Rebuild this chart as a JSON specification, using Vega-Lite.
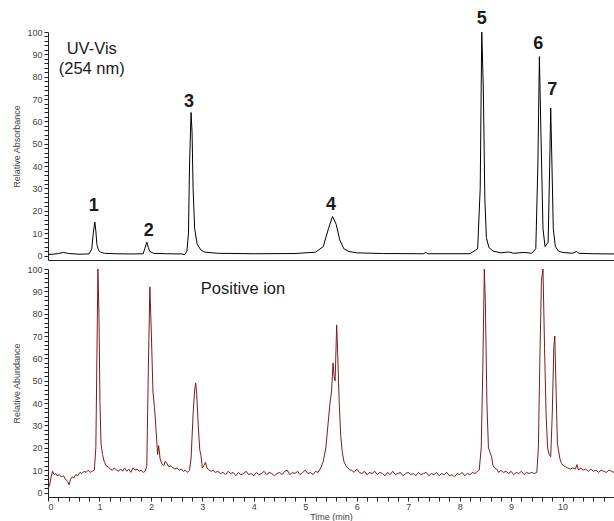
{
  "$schema": "https://vega.github.io/schema/vega-lite/v6.json",
  "padding": {"left": 12, "top": 9, "right": 0, "bottom": 0},
  "background": "white",
  "spacing": 4,
  "config": {
    "view": {"stroke": null},
    "font": "Liberation Sans",
    "axis": {
      "grid": false,
      "labelFont": "Liberation Sans",
      "titleFont": "Liberation Sans",
      "labelFontSize": 9,
      "titleFontSize": 9,
      "titleFontWeight": "normal",
      "labelColor": "#444",
      "titleColor": "#444",
      "domainColor": "#222",
      "tickColor": "#222",
      "tickSize": 4,
      "labelOverlap": false
    }
  },
  "datasets": {
    "uv": [
      {"t": 0, "v": 0.5}, {"t": 0.1, "v": 0.6}, {"t": 0.2, "v": 0.9}, {"t": 0.3, "v": 1.4}, {"t": 0.4, "v": 0.9},
      {"t": 0.6, "v": 0.6}, {"t": 0.8, "v": 0.7}, {"t": 0.85, "v": 3}, {"t": 0.88, "v": 10}, {"t": 0.91, "v": 15},
      {"t": 0.93, "v": 11}, {"t": 0.95, "v": 5}, {"t": 0.98, "v": 2.5}, {"t": 1.02, "v": 1.5}, {"t": 1.1, "v": 1},
      {"t": 1.3, "v": 0.8}, {"t": 1.6, "v": 0.7}, {"t": 1.85, "v": 0.8}, {"t": 1.88, "v": 3}, {"t": 1.92, "v": 6},
      {"t": 1.95, "v": 3.5}, {"t": 1.98, "v": 1.8}, {"t": 2.05, "v": 1}, {"t": 2.3, "v": 0.8}, {"t": 2.6, "v": 0.7},
      {"t": 2.66, "v": 0.4}, {"t": 2.7, "v": 2}, {"t": 2.73, "v": 10}, {"t": 2.75, "v": 40}, {"t": 2.78, "v": 64},
      {"t": 2.8, "v": 55}, {"t": 2.82, "v": 30}, {"t": 2.85, "v": 12}, {"t": 2.9, "v": 5}, {"t": 2.97, "v": 2.5},
      {"t": 3.05, "v": 1.5}, {"t": 3.3, "v": 1}, {"t": 4.0, "v": 0.8}, {"t": 4.8, "v": 0.9}, {"t": 5.2, "v": 1.5},
      {"t": 5.35, "v": 4}, {"t": 5.45, "v": 12}, {"t": 5.53, "v": 17.5}, {"t": 5.6, "v": 14}, {"t": 5.67, "v": 7},
      {"t": 5.75, "v": 3}, {"t": 5.85, "v": 1.8}, {"t": 6.0, "v": 1.2}, {"t": 6.5, "v": 0.9}, {"t": 7.3, "v": 0.8},
      {"t": 7.34, "v": 1.4}, {"t": 7.38, "v": 0.8}, {"t": 8.2, "v": 0.8}, {"t": 8.35, "v": 3}, {"t": 8.4, "v": 30},
      {"t": 8.43, "v": 100}, {"t": 8.46, "v": 75}, {"t": 8.49, "v": 25}, {"t": 8.52, "v": 8}, {"t": 8.57, "v": 3.5},
      {"t": 8.65, "v": 2}, {"t": 8.8, "v": 1.2}, {"t": 8.95, "v": 1.6}, {"t": 9.05, "v": 1}, {"t": 9.25, "v": 1.4},
      {"t": 9.4, "v": 1}, {"t": 9.48, "v": 3}, {"t": 9.52, "v": 40}, {"t": 9.55, "v": 89}, {"t": 9.58, "v": 55},
      {"t": 9.62, "v": 12}, {"t": 9.66, "v": 4}, {"t": 9.72, "v": 6}, {"t": 9.75, "v": 40}, {"t": 9.77, "v": 66},
      {"t": 9.79, "v": 45}, {"t": 9.82, "v": 12}, {"t": 9.86, "v": 4}, {"t": 9.92, "v": 2}, {"t": 10.0, "v": 1.4},
      {"t": 10.2, "v": 1}, {"t": 10.27, "v": 1.8}, {"t": 10.32, "v": 1}, {"t": 10.6, "v": 0.8}, {"t": 11.0, "v": 0.7}
    ],
    "uvlabels": [
      {"label": "1", "t": 0.89, "v": 22},
      {"label": "2", "t": 1.96, "v": 11},
      {"label": "3", "t": 2.74, "v": 68.6},
      {"label": "4", "t": 5.5, "v": 22.4},
      {"label": "5", "t": 8.43, "v": 106},
      {"label": "6", "t": 9.53, "v": 94.6},
      {"label": "7", "t": 9.8, "v": 74}
    ],
    "uvnotes": [
      {"label": "UV-Vis", "t": 0.85, "v": 92.4},
      {"label": "(254 nm)", "t": 0.85, "v": 83.4}
    ],
    "msnotes": [
      {"label": "Positive ion", "t": 3.79, "v": 91}
    ],
    "ms": [
      {"t": 0.0, "v": 2}, {"t": 0.03, "v": 3}, {"t": 0.06, "v": 7}, {"t": 0.09, "v": 9.5}, {"t": 0.12, "v": 8},
      {"t": 0.15, "v": 8.5}, {"t": 0.18, "v": 7.5}, {"t": 0.22, "v": 8}, {"t": 0.26, "v": 7}, {"t": 0.3, "v": 7.5},
      {"t": 0.34, "v": 6}, {"t": 0.38, "v": 5}, {"t": 0.41, "v": 3.5}, {"t": 0.44, "v": 6}, {"t": 0.47, "v": 7},
      {"t": 0.5, "v": 6.5}, {"t": 0.54, "v": 8}, {"t": 0.58, "v": 7.5}, {"t": 0.62, "v": 9}, {"t": 0.66, "v": 8.5},
      {"t": 0.7, "v": 9.5}, {"t": 0.74, "v": 9}, {"t": 0.78, "v": 10}, {"t": 0.82, "v": 9}, {"t": 0.86, "v": 9.5},
      {"t": 0.9, "v": 10}, {"t": 0.93, "v": 20}, {"t": 0.95, "v": 60}, {"t": 0.97, "v": 100}, {"t": 0.99, "v": 80},
      {"t": 1.01, "v": 40}, {"t": 1.03, "v": 22}, {"t": 1.06, "v": 17}, {"t": 1.09, "v": 14}, {"t": 1.13, "v": 12},
      {"t": 1.17, "v": 11.5}, {"t": 1.21, "v": 10.5}, {"t": 1.25, "v": 10}, {"t": 1.29, "v": 11}, {"t": 1.33, "v": 10},
      {"t": 1.37, "v": 9.5}, {"t": 1.41, "v": 10.5}, {"t": 1.45, "v": 9.5}, {"t": 1.49, "v": 11}, {"t": 1.53, "v": 9.5},
      {"t": 1.57, "v": 10.5}, {"t": 1.61, "v": 9}, {"t": 1.65, "v": 11}, {"t": 1.69, "v": 10}, {"t": 1.73, "v": 10.5},
      {"t": 1.77, "v": 9.5}, {"t": 1.81, "v": 10}, {"t": 1.85, "v": 9}, {"t": 1.89, "v": 9.5}, {"t": 1.92, "v": 12},
      {"t": 1.95, "v": 55}, {"t": 1.98, "v": 92}, {"t": 2.01, "v": 70}, {"t": 2.04, "v": 45}, {"t": 2.07, "v": 38},
      {"t": 2.1, "v": 28}, {"t": 2.13, "v": 17}, {"t": 2.15, "v": 21}, {"t": 2.18, "v": 15}, {"t": 2.21, "v": 13},
      {"t": 2.25, "v": 12}, {"t": 2.28, "v": 14}, {"t": 2.31, "v": 13}, {"t": 2.35, "v": 11.5}, {"t": 2.39, "v": 12},
      {"t": 2.43, "v": 11}, {"t": 2.47, "v": 10.5}, {"t": 2.51, "v": 11}, {"t": 2.55, "v": 10}, {"t": 2.59, "v": 10.5},
      {"t": 2.63, "v": 9.5}, {"t": 2.67, "v": 10}, {"t": 2.71, "v": 9}, {"t": 2.75, "v": 10}, {"t": 2.78, "v": 15},
      {"t": 2.82, "v": 35}, {"t": 2.85, "v": 46}, {"t": 2.87, "v": 49}, {"t": 2.89, "v": 44}, {"t": 2.92, "v": 30},
      {"t": 2.95, "v": 19}, {"t": 2.97, "v": 17}, {"t": 3.0, "v": 11}, {"t": 3.03, "v": 12}, {"t": 3.06, "v": 13.5},
      {"t": 3.09, "v": 11}, {"t": 3.13, "v": 10}, {"t": 3.17, "v": 9.5}, {"t": 3.21, "v": 10}, {"t": 3.25, "v": 9},
      {"t": 3.3, "v": 9.5}, {"t": 3.35, "v": 8.5}, {"t": 3.4, "v": 9}, {"t": 3.45, "v": 8}, {"t": 3.5, "v": 9.5},
      {"t": 3.55, "v": 8.5}, {"t": 3.6, "v": 9}, {"t": 3.65, "v": 7.5}, {"t": 3.7, "v": 9}, {"t": 3.75, "v": 8},
      {"t": 3.8, "v": 8.5}, {"t": 3.85, "v": 9.5}, {"t": 3.9, "v": 8}, {"t": 3.95, "v": 8.5}, {"t": 4.0, "v": 7.5},
      {"t": 4.05, "v": 9}, {"t": 4.1, "v": 8}, {"t": 4.15, "v": 8.5}, {"t": 4.2, "v": 9.5}, {"t": 4.25, "v": 8},
      {"t": 4.3, "v": 9}, {"t": 4.35, "v": 8.5}, {"t": 4.4, "v": 7.5}, {"t": 4.45, "v": 8.5}, {"t": 4.5, "v": 9},
      {"t": 4.55, "v": 8}, {"t": 4.6, "v": 9.5}, {"t": 4.65, "v": 10}, {"t": 4.7, "v": 8}, {"t": 4.75, "v": 9},
      {"t": 4.8, "v": 8.5}, {"t": 4.85, "v": 9.5}, {"t": 4.9, "v": 8}, {"t": 4.95, "v": 9}, {"t": 5.0, "v": 10},
      {"t": 5.05, "v": 8.5}, {"t": 5.1, "v": 9}, {"t": 5.15, "v": 8}, {"t": 5.2, "v": 9.5}, {"t": 5.25, "v": 9},
      {"t": 5.3, "v": 11}, {"t": 5.35, "v": 14}, {"t": 5.4, "v": 20}, {"t": 5.44, "v": 30}, {"t": 5.48, "v": 40},
      {"t": 5.51, "v": 45}, {"t": 5.54, "v": 58}, {"t": 5.56, "v": 52}, {"t": 5.58, "v": 50}, {"t": 5.61, "v": 75},
      {"t": 5.63, "v": 62}, {"t": 5.66, "v": 40}, {"t": 5.69, "v": 25}, {"t": 5.72, "v": 18}, {"t": 5.75, "v": 14},
      {"t": 5.79, "v": 12}, {"t": 5.83, "v": 11}, {"t": 5.87, "v": 10},
      {"t": 5.9, "v": 10}, {"t": 5.95, "v": 9}, {"t": 6.0, "v": 10.5}, {"t": 6.05, "v": 9}, {"t": 6.1, "v": 8.5},
      {"t": 6.15, "v": 9.5}, {"t": 6.2, "v": 8}, {"t": 6.25, "v": 9}, {"t": 6.3, "v": 8.5}, {"t": 6.35, "v": 9.5},
      {"t": 6.4, "v": 8}, {"t": 6.45, "v": 9}, {"t": 6.5, "v": 8.5}, {"t": 6.55, "v": 7.5}, {"t": 6.6, "v": 9},
      {"t": 6.65, "v": 8}, {"t": 6.7, "v": 9.5}, {"t": 6.75, "v": 8}, {"t": 6.8, "v": 8.5}, {"t": 6.85, "v": 9},
      {"t": 6.9, "v": 7.5}, {"t": 6.95, "v": 8.5}, {"t": 7.0, "v": 9}, {"t": 7.05, "v": 8}, {"t": 7.1, "v": 8.5},
      {"t": 7.15, "v": 7.5}, {"t": 7.2, "v": 9}, {"t": 7.25, "v": 8}, {"t": 7.3, "v": 8.5}, {"t": 7.35, "v": 9},
      {"t": 7.4, "v": 7.5}, {"t": 7.45, "v": 8.5}, {"t": 7.5, "v": 8}, {"t": 7.55, "v": 9}, {"t": 7.6, "v": 7.5},
      {"t": 7.65, "v": 8.5}, {"t": 7.7, "v": 8}, {"t": 7.75, "v": 9}, {"t": 7.8, "v": 7.5}, {"t": 7.85, "v": 8},
      {"t": 7.9, "v": 7}, {"t": 7.95, "v": 8.5}, {"t": 8.0, "v": 8}, {"t": 8.05, "v": 9}, {"t": 8.1, "v": 7.5},
      {"t": 8.15, "v": 8.5}, {"t": 8.2, "v": 8}, {"t": 8.25, "v": 9}, {"t": 8.3, "v": 8.5}, {"t": 8.35, "v": 9.5},
      {"t": 8.38, "v": 10}, {"t": 8.42, "v": 20}, {"t": 8.45, "v": 55}, {"t": 8.48, "v": 100}, {"t": 8.5, "v": 85},
      {"t": 8.53, "v": 40}, {"t": 8.56, "v": 20}, {"t": 8.59, "v": 18}, {"t": 8.62, "v": 16}, {"t": 8.65, "v": 12},
      {"t": 8.68, "v": 11}, {"t": 8.72, "v": 10.5}, {"t": 8.76, "v": 9}, {"t": 8.8, "v": 10}, {"t": 8.85, "v": 9},
      {"t": 8.9, "v": 9.5}, {"t": 8.95, "v": 8.5}, {"t": 9.0, "v": 9.5}, {"t": 9.05, "v": 8}, {"t": 9.1, "v": 9},
      {"t": 9.15, "v": 8.5}, {"t": 9.2, "v": 9.5}, {"t": 9.25, "v": 8}, {"t": 9.3, "v": 9}, {"t": 9.35, "v": 8.5},
      {"t": 9.4, "v": 9}, {"t": 9.45, "v": 8.5}, {"t": 9.5, "v": 9}, {"t": 9.53, "v": 20}, {"t": 9.56, "v": 60},
      {"t": 9.59, "v": 95}, {"t": 9.62, "v": 100}, {"t": 9.65, "v": 65}, {"t": 9.68, "v": 35}, {"t": 9.71, "v": 20},
      {"t": 9.74, "v": 17}, {"t": 9.77, "v": 16}, {"t": 9.8, "v": 35}, {"t": 9.83, "v": 65}, {"t": 9.85, "v": 70},
      {"t": 9.87, "v": 50}, {"t": 9.9, "v": 22}, {"t": 9.92, "v": 19}, {"t": 9.95, "v": 15}, {"t": 9.98, "v": 13},
      {"t": 10.02, "v": 12}, {"t": 10.06, "v": 11.5}, {"t": 10.1, "v": 11}, {"t": 10.15, "v": 10.5}, {"t": 10.2, "v": 11},
      {"t": 10.25, "v": 10.5}, {"t": 10.28, "v": 12.5}, {"t": 10.31, "v": 10}, {"t": 10.35, "v": 11}, {"t": 10.4, "v": 10},
      {"t": 10.45, "v": 10.5}, {"t": 10.5, "v": 9.5}, {"t": 10.55, "v": 10.5}, {"t": 10.6, "v": 9.5}, {"t": 10.65, "v": 10},
      {"t": 10.7, "v": 9}, {"t": 10.75, "v": 10}, {"t": 10.8, "v": 9.5}, {"t": 10.85, "v": 9}, {"t": 10.9, "v": 10},
      {"t": 10.95, "v": 9.5}, {"t": 11.0, "v": 9}
    ]
  },
  "vconcat": [
    {
      "width": 566,
      "height": 228,
      "encoding": {
        "x": {
          "field": "t", "type": "quantitative",
          "scale": {"domain": [0, 11], "nice": false, "zero": false},
          "axis": {"labels": false, "ticks": false, "title": null, "domain": true}
        },
        "y": {
          "field": "v", "type": "quantitative",
          "scale": {"domain": [-2, 100], "nice": false, "zero": false},
          "axis": {
            "title": "Relative Absorbance",
            "values": [0,2,4,6,8,10,12,14,16,18,20,22,24,26,28,30,32,34,36,38,40,42,44,46,48,50,52,54,56,58,60,62,64,66,68,70,72,74,76,78,80,82,84,86,88,90,92,94,96,98,100],
            "labelExpr": "datum.value % 10 === 0 ? datum.label : ''",
            "labelPadding": 2,
            "titlePadding": 5
          }
        }
      },
      "layer": [
        {"data": {"name": "uv"}, "mark": {"type": "line", "color": "#000000", "strokeWidth": 1}},
        {
          "data": {"name": "uvlabels"},
          "mark": {"type": "text", "fontSize": 18, "fontWeight": "bold", "color": "#1a1a1a", "baseline": "middle"},
          "encoding": {"text": {"field": "label"}}
        },
        {
          "data": {"name": "uvnotes"},
          "mark": {"type": "text", "fontSize": 16.5, "color": "#1a1a1a", "baseline": "middle"},
          "encoding": {"text": {"field": "label"}}
        }
      ]
    },
    {
      "width": 566,
      "height": 228,
      "encoding": {
        "x": {
          "field": "t", "type": "quantitative",
          "scale": {"domain": [0, 11], "nice": false, "zero": false},
          "axis": {
            "title": "Time (min)",
            "values": [0,0.2,0.4,0.6,0.8,1,1.2,1.4,1.6,1.8,2,2.2,2.4,2.6,2.8,3,3.2,3.4,3.6,3.8,4,4.2,4.4,4.6,4.8,5,5.2,5.4,5.6,5.8,6,6.2,6.4,6.6,6.8,7,7.2,7.4,7.6,7.8,8,8.2,8.4,8.6,8.8,9,9.2,9.4,9.6,9.8,10,10.2,10.4,10.6,10.8,11],
            "labelExpr": "datum.value % 1 === 0 && datum.value < 11 ? format(datum.value, 'd') : ''",
            "labelPadding": 1,
            "titlePadding": 1
          }
        },
        "y": {
          "field": "v", "type": "quantitative",
          "scale": {"domain": [-2, 100], "nice": false, "zero": false},
          "axis": {
            "title": "Relative Abundance",
            "values": [0,2,4,6,8,10,12,14,16,18,20,22,24,26,28,30,32,34,36,38,40,42,44,46,48,50,52,54,56,58,60,62,64,66,68,70,72,74,76,78,80,82,84,86,88,90,92,94,96,98,100],
            "labelExpr": "datum.value % 10 === 0 ? datum.label : ''",
            "labelPadding": 2,
            "titlePadding": 5
          }
        }
      },
      "layer": [
        {"data": {"name": "ms"}, "mark": {"type": "line", "color": "#7b1c1c", "strokeWidth": 1}},
        {
          "data": {"name": "msnotes"},
          "mark": {"type": "text", "fontSize": 16.5, "color": "#1a1a1a", "baseline": "middle"},
          "encoding": {"text": {"field": "label"}}
        }
      ]
    }
  ]
}
